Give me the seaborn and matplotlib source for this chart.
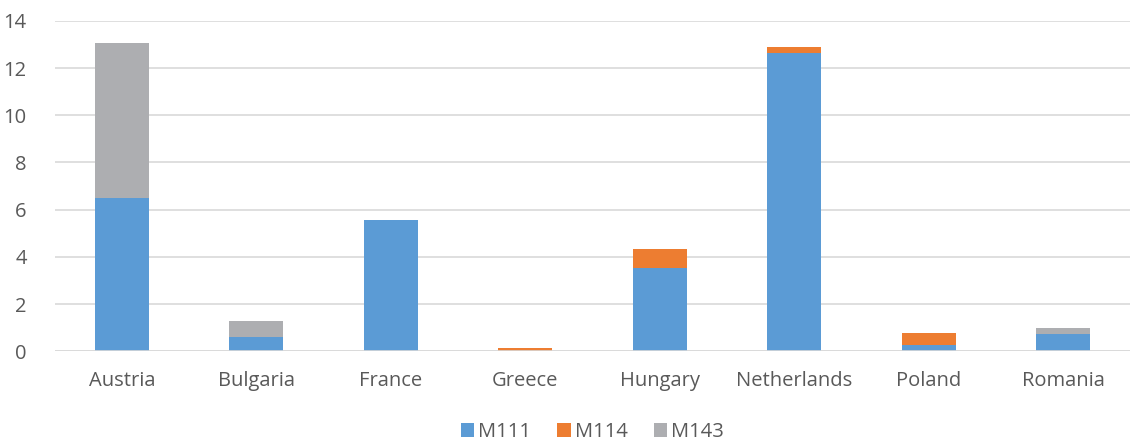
import matplotlib
matplotlib.use("Agg")
import matplotlib.pyplot as plt
import seaborn as sns
import numpy as np
import pandas as pd
from matplotlib.patches import Patch

countries = ["Austria", "Bulgaria", "France", "Greece", "Hungary", "Netherlands", "Poland", "Romania"]
m111 = [6.51, 0.61, 5.56, 0.0, 3.54, 12.62, 0.28, 0.75]
m114 = [0.0, 0.0, 0.0, 0.15, 0.78, 0.28, 0.48, 0.0]
m143 = [6.55, 0.66, 0.02, 0.0, 0.0, 0.0, 0.0, 0.23]
series_names = ["M111", "M114", "M143"]
colors = ["#5B9BD5", "#ED7D31", "#ADAEB1"]
yticks = [0, 2, 4, 6, 8, 10, 12, 14]

sns.set_theme(style="white")
plt.rcParams["font.family"] = ["Open Sans", "DejaVu Sans"]

fig = plt.figure(figsize=(11.36, 4.44), dpi=100)
ax = fig.add_axes([0.048, 0.209, 0.947, 0.744])

df = pd.DataFrame({"country": countries, "M111": m111, "M114": m114, "M143": m143})
bottom = np.zeros(len(countries))
for name, col in zip(series_names, colors):
    sns.barplot(data=df, x="country", y=name, color=col, width=0.4,
                bottom=bottom, ax=ax, saturation=1, edgecolor="none", zorder=3)
    bottom = bottom + df[name].values

ax.set_ylim(0, 14)
ax.set_xlim(-0.5, 7.5)
ax.set_yticks(yticks)
ax.set_yticklabels([str(t) for t in yticks])
ax.set_xlabel("")
ax.set_ylabel("")
ax.yaxis.grid(True, color="#D9D9D9", linewidth=1.2, zorder=0)
ax.set_axisbelow(True)
for s in ax.spines.values():
    s.set_visible(False)
ax.axhline(0, color="#D9D9D9", linewidth=1.2, zorder=4)
ax.tick_params(axis="both", length=0, labelsize=14.5, labelcolor="#595959")
ax.tick_params(axis="x", pad=14)
ax.tick_params(axis="y", pad=20)

handles = [Patch(facecolor=c, edgecolor="none") for c in colors]
fig.legend(handles, series_names, loc="lower center", bbox_to_anchor=(0.5215, -0.036),
           ncol=3, frameon=False, fontsize=14.5, labelcolor="#595959",
           handlelength=0.65, handleheight=0.65, handletextpad=0.2, columnspacing=1.3)

fig.savefig("out.png", dpi=100)
